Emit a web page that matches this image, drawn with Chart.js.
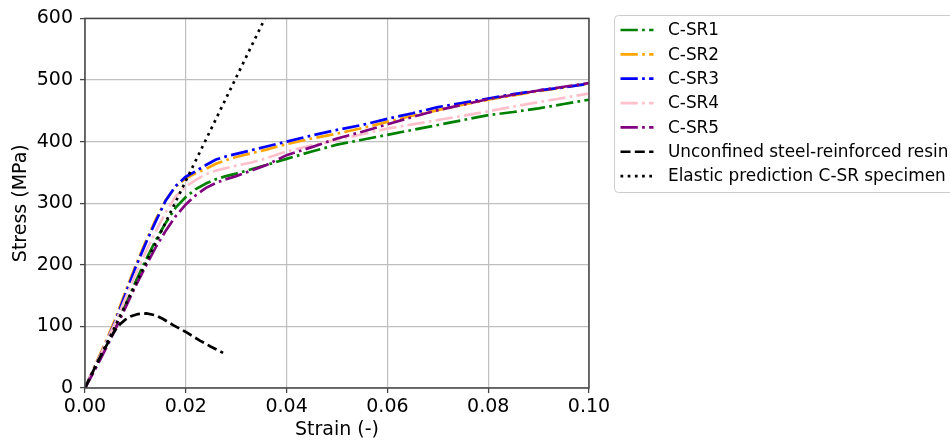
<!DOCTYPE html>
<html>
<head>
<meta charset="utf-8">
<script src="https://cdn.jsdelivr.net/npm/chart.js@4.4.1/dist/chart.umd.min.js"></script>
<style>
  html, body { margin: 0; padding: 0; background: #ffffff; }
  #wrap { width: 950px; height: 443px; position: relative; }
</style>
</head>
<body>
<div id="wrap"><canvas id="c" width="950" height="443"></canvas></div>
<script>
// ---- data ----
const seriesLabels = ["C-SR1", "C-SR2", "C-SR3", "C-SR4", "C-SR5",
  "Unconfined steel-reinforced resin", "Elastic prediction C-SR specimen"];

const strainCSR = [0, 0.002, 0.004, 0.006, 0.008, 0.010, 0.012, 0.014, 0.016, 0.018,
  0.020, 0.022, 0.024, 0.026, 0.028, 0.030, 0.033, 0.036, 0.040, 0.045,
  0.050, 0.055, 0.060, 0.065, 0.070, 0.075, 0.080, 0.085, 0.090, 0.095, 0.100];

const stressCSR1 = [0, 33, 66, 100, 135, 172, 207, 239, 268, 293, 310, 323, 332, 339, 344, 348,
  355, 362, 372, 384, 395, 403, 411, 419, 427, 435, 443, 448, 454, 461, 468];
const stressCSR2 = [0, 37, 73, 112, 156, 198, 237, 273, 305, 327, 340, 349, 356, 364, 370, 375,
  381, 387, 396, 405, 413, 422, 432, 442, 451, 460, 468, 475, 482, 488, 494];
const stressCSR3 = [0, 35, 70, 108, 152, 195, 234, 270, 304, 328, 343, 352, 362, 371, 376, 380,
  386, 392, 400, 410, 419, 427, 437, 446, 456, 463, 470, 477, 483, 488, 494];
const stressCSR4 = [0, 35, 70, 106, 145, 184, 220, 254, 285, 311, 327, 338, 347, 353, 357, 361,
  366, 373, 384, 394, 403, 412, 421, 428, 435, 442, 449, 457, 464, 471, 478];
const stressCSR5 = [0, 30, 62, 95, 130, 165, 197, 228, 255, 279, 298, 313, 325, 333, 339, 344,
  353, 362, 378, 391, 405, 416, 428, 440, 451, 460, 469, 476, 483, 489, 495];

const strainUnconfined = [0, 0.002, 0.003, 0.004, 0.005, 0.006, 0.007, 0.008, 0.009, 0.0105,
  0.0122, 0.014, 0.0155, 0.0175, 0.020, 0.0228, 0.025, 0.0274];
const stressUnconfined = [0, 34, 50, 65, 80, 94, 104, 111, 116, 120,
  121, 118, 112, 102, 91, 77, 67, 57];

const strainElastic = [0, 0.0357];
const stressElastic = [0, 600];

const xTickValues = [0, 0.02, 0.04, 0.06, 0.08, 0.10];
const yTickValues = [0, 100, 200, 300, 400, 500, 600];

// ---- styling ----
const LW = 2.7;
const colors = ["#008000", "#FFA500", "#0000FF", "#FFC0CB", "#800080", "#000000", "#000000"];
const dashDot = [17.3, 4.3, 2.7, 4.3];
const dashes = [dashDot, dashDot, dashDot, dashDot, dashDot, [10, 4.3], [2.7, 4.5]];

function pts(xs, ys) { return xs.map((x, i) => ({ x: x, y: ys[i] })); }
const allData = [
  pts(strainCSR, stressCSR1), pts(strainCSR, stressCSR2), pts(strainCSR, stressCSR3),
  pts(strainCSR, stressCSR4), pts(strainCSR, stressCSR5),
  pts(strainUnconfined, stressUnconfined), pts(strainElastic, stressElastic)
];

const datasets = allData.map((d, i) => ({
  label: seriesLabels[i],
  data: d,
  borderColor: colors[i],
  backgroundColor: colors[i],
  borderWidth: LW,
  borderDash: dashes[i],
  borderCapStyle: 'butt',
  pointRadius: 0,
  pointHoverRadius: 0,
  tension: 0,
  showLine: true,
  fill: false,
  order: allData.length - i
}));

const FONT = "'DejaVu Sans', sans-serif";

const framePlugin = {
  id: 'frameAndLegend',
  afterDatasetsDraw(chart) {
    const ctx = chart.ctx;
    const a = chart.chartArea;
    ctx.save();
    ctx.strokeStyle = '#444444';
    ctx.lineWidth = 1.5;
    ctx.setLineDash([]);
    ctx.strokeRect(a.left, a.top, a.right - a.left, a.bottom - a.top);
    ctx.restore();
  },
  afterDraw(chart) {
    const ctx = chart.ctx;
    ctx.save();
    // legend box
    const bx = 614.5, by = 15.5, bw = 400, bh = 177, r = 4;
    ctx.beginPath();
    ctx.moveTo(bx + r, by);
    ctx.lineTo(bx + bw - r, by);
    ctx.arcTo(bx + bw, by, bx + bw, by + r, r);
    ctx.lineTo(bx + bw, by + bh - r);
    ctx.arcTo(bx + bw, by + bh, bx + bw - r, by + bh, r);
    ctx.lineTo(bx + r, by + bh);
    ctx.arcTo(bx, by + bh, bx, by + bh - r, r);
    ctx.lineTo(bx, by + r);
    ctx.arcTo(bx, by, bx + r, by, r);
    ctx.closePath();
    ctx.fillStyle = 'rgba(255,255,255,0.8)';
    ctx.fill();
    ctx.strokeStyle = '#cccccc';
    ctx.lineWidth = 1;
    ctx.stroke();

    ctx.font = "16.9px " + FONT;
    ctx.textBaseline = 'middle';
    ctx.textAlign = 'left';
    chart.data.datasets.forEach((ds, i) => {
      const y = 30 + i * 24.35;
      ctx.beginPath();
      ctx.setLineDash(ds.borderDash);
      ctx.lineDashOffset = 0;
      ctx.lineCap = 'butt';
      ctx.strokeStyle = ds.borderColor;
      ctx.lineWidth = LW;
      ctx.moveTo(620.5, y);
      ctx.lineTo(653.5, y);
      ctx.stroke();
      ctx.setLineDash([]);
      ctx.fillStyle = '#000000';
      ctx.fillText(ds.label, 668, y + 1);
    });
    ctx.restore();
  }
};

new Chart(document.getElementById('c'), {
  type: 'scatter',
  data: { datasets: datasets },
  plugins: [framePlugin],
  options: {
    responsive: false,
    animation: false,
    events: [],
    layout: { padding: { left: 0, right: 361, top: 16, bottom: 0 } },
    plugins: { legend: { display: false }, tooltip: { enabled: false } },
    scales: {
      x: {
        type: 'linear',
        min: 0, max: 0.10,
        afterFit(scale) { scale.height = 55; },
        afterBuildTicks(scale) { scale.ticks = xTickValues.map(v => ({ value: v })); },
        ticks: {
          color: '#000000',
          font: { family: FONT, size: 19 },
          padding: 3,
          maxRotation: 0,
          callback: v => Number(v).toFixed(2)
        },
        grid: { color: '#bfbfbf', lineWidth: 1.2, tickLength: 5, tickColor: '#444444', tickWidth: 1.3 },
        border: { display: false },
        title: { display: true, text: 'Strain (-)', color: '#000000',
          font: { family: FONT, size: 19 }, padding: { top: 0, bottom: 2 } }
      },
      y: {
        type: 'linear',
        min: 0, max: 600,
        afterFit(scale) { scale.width = 85; },
        afterBuildTicks(scale) { scale.ticks = yTickValues.map(v => ({ value: v })); },
        ticks: {
          color: '#000000',
          font: { family: FONT, size: 19 },
          padding: 7,
          callback: v => String(v)
        },
        grid: { color: '#bfbfbf', lineWidth: 1.2, tickLength: 5, tickColor: '#444444', tickWidth: 1.3 },
        border: { display: false },
        title: { display: true, text: 'Stress (MPa)', color: '#000000',
          font: { family: FONT, size: 19 }, padding: { top: 10, bottom: 0 } }
      }
    }
  }
});
</script>
</body>
</html>
